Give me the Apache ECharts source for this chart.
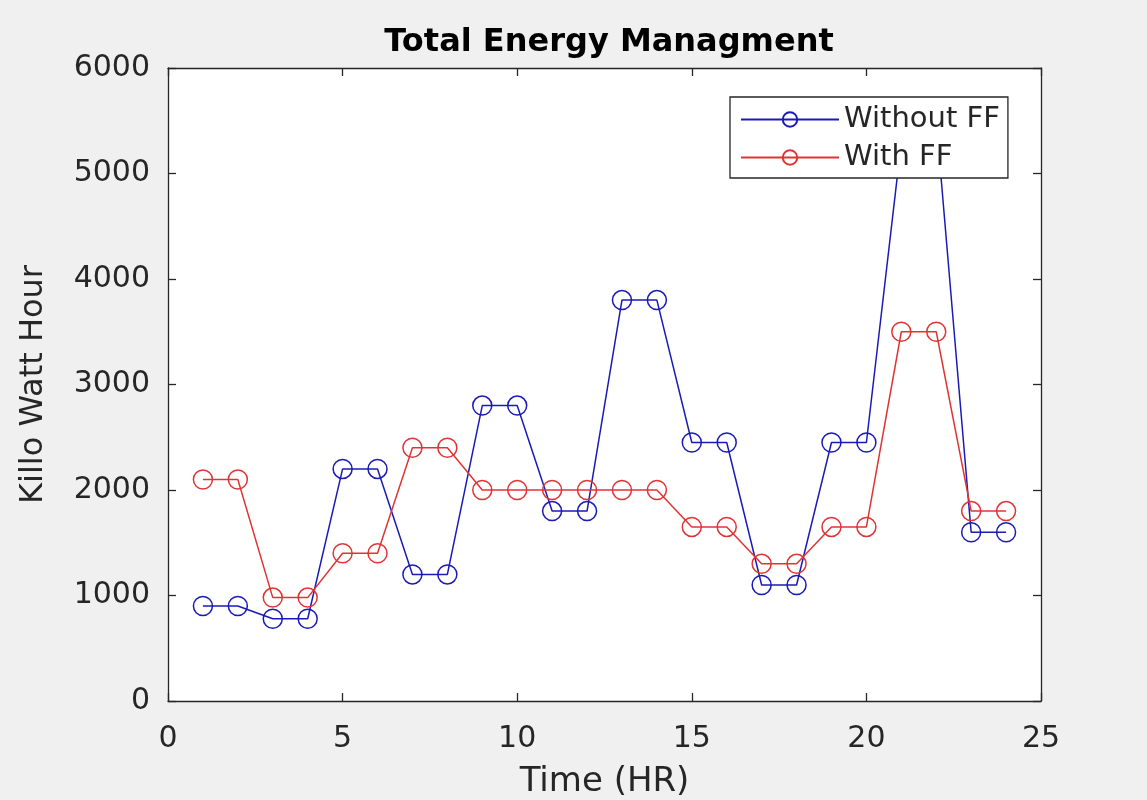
<!DOCTYPE html>
<html>
<head>
<meta charset="utf-8">
<title>Total Energy Managment</title>
<script src="https://cdn.jsdelivr.net/npm/echarts@6/dist/echarts.min.js"></script>
<style>
  html, body { margin: 0; padding: 0; background: #f0f0f0; }
  #chart { width: 1147px; height: 800px; }
</style>
</head>
<body>
<div id="chart"></div>
<script>
// Hourly energy use over one day, with and without FF
const hours = [1, 2, 3, 4, 5, 6, 7, 8, 9, 10, 11, 12, 13, 14, 15, 16, 17, 18, 19, 20, 21, 22, 23, 24];
const withoutFF = [900, 900, 780, 780, 2200, 2200, 1200, 1200, 2800, 2800, 1800, 1800,
                   3800, 3800, 2450, 2450, 1100, 1100, 2450, 2450, 5300, 5500, 1600, 1600];
const withFF = [2100, 2100, 980, 980, 1400, 1400, 2400, 2400, 2000, 2000, 2000, 2000,
                2000, 2000, 1650, 1650, 1300, 1300, 1650, 1650, 3500, 3500, 1800, 1800];
const seriesNames = ['Without FF', 'With FF'];
const xTicks = [0, 5, 10, 15, 20, 25];
const yTicks = [0, 1000, 2000, 3000, 4000, 5000, 6000];

const FONT = 'DejaVu Sans';
const INK = '#262626';
const BLUE = '#1a1ab8';
const RED = '#e03434';

const pairs = (xs, ys) => xs.map((x, i) => [x, ys[i]]);

// Axis box: ticks point inward on all four sides, plain integer labels
function boxAxis(kind, position, showLabels, ticks) {
  return {
    type: 'value',
    position: position,
    min: ticks[0],
    max: ticks[ticks.length - 1],
    interval: ticks[1] - ticks[0],
    axisLine: { show: true, onZero: false, lineStyle: { color: INK, width: 1.3 } },
    axisTick: { show: true, inside: true, length: 8, lineStyle: { color: INK, width: 1.3 } },
    splitLine: { show: false },
    axisLabel: {
      show: showLabels, color: INK, fontFamily: FONT, fontSize: 30,
      margin: kind === 'x' ? 23 : 18,
      formatter: v => String(v)
    }
  };
}

const xMain = boxAxis('x', 'bottom', true, xTicks);
xMain.name = 'Time (HR)';
xMain.nameLocation = 'middle';
xMain.nameGap = 64;
xMain.nameTextStyle = { color: INK, fontFamily: FONT, fontSize: 34 };

const yMain = boxAxis('y', 'left', true, yTicks);
yMain.name = 'Killo Watt Hour';
yMain.nameLocation = 'middle';
yMain.nameGap = 118;
yMain.nameTextStyle = { color: INK, fontFamily: FONT, fontSize: 32 };

function lineSeries(name, values, color) {
  return {
    name: name,
    type: 'line',
    data: pairs(hours, values),
    xAxisIndex: 0,
    yAxisIndex: 0,
    symbol: 'circle',
    symbolSize: 19,
    showAllSymbol: true,
    clip: true,
    lineStyle: { color: color, width: 1.5 },
    itemStyle: { color: 'rgba(255,255,255,0)', borderColor: color, borderWidth: 1.5 },
    emphasis: { disabled: true },
    animation: false
  };
}

const chart = echarts.init(document.getElementById('chart'), null, { renderer: 'canvas' });
chart.setOption({
  backgroundColor: '#f0f0f0',
  animation: false,
  title: {
    text: 'Total Energy Managment',
    left: 604,
    textAlign: 'center',
    top: 22,
    textStyle: { color: '#000', fontFamily: FONT, fontSize: 32, fontWeight: 'bold' }
  },
  grid: {
    left: 168, right: 106, top: 68, bottom: 99,
    outerBoundsMode: 'none',
    containLabel: false,
    show: true, backgroundColor: '#ffffff', borderWidth: 0
  },
  legend: {
    data: seriesNames,
    orient: 'vertical',
    left: 730,
    top: 97,
    padding: [8, 8, 6, 10],
    itemWidth: 98,
    itemHeight: 18,
    itemGap: 9,
    backgroundColor: '#ffffff',
    borderColor: INK,
    borderWidth: 1.3,
    textStyle: { color: INK, fontFamily: FONT, fontSize: 29 },
    z: 10
  },
  xAxis: [xMain, boxAxis('x', 'top', false, xTicks)],
  yAxis: [yMain, boxAxis('y', 'right', false, yTicks)],
  series: [
    lineSeries(seriesNames[0], withoutFF, BLUE),
    lineSeries(seriesNames[1], withFF, RED)
  ]
});
</script>
</body>
</html>
